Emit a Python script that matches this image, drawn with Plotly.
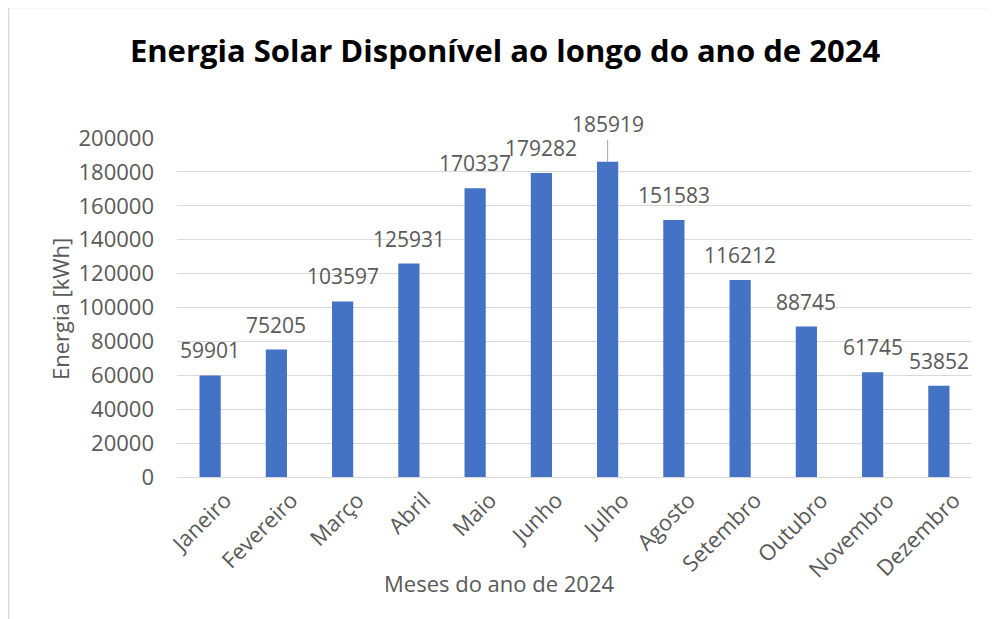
import plotly.graph_objects as go

# dados
meses = ["Janeiro", "Fevereiro", "Março", "Abril", "Maio", "Junho",
         "Julho", "Agosto", "Setembro", "Outubro", "Novembro", "Dezembro"]
energia_kwh = [59901, 75205, 103597, 125931, 170337, 179282,
               185919, 151583, 116212, 88745, 61745, 53852]
y_ticks = list(range(0, 200001, 20000))

# a página tem margem de 8px no body; a figura fica deslocada
OFF = 8
W, H = 997 - OFF, 619 - OFF
ML, MR, MT, MB = 177 - OFF, 25, 138 - OFF, 142
pw, ph = W - ML - MR, H - MT - MB

def px_x(p):
    # p em pixels da janela
    return (p - OFF - ML) / pw

def px_y(p):
    return (H - MB - (p - OFF)) / ph

cinza = "#595959"
fonte = "Open Sans"

fig = go.Figure()
fig.add_trace(go.Bar(x=meses, y=energia_kwh, marker_color="#4472C4",
                     marker_line_width=0, hoverinfo="x+y"))

# rótulos de dados
anots = []
for m, v in zip(meses, energia_kwh):
    if m == "Julho":
        # rótulo deslocado com linha de chamada
        anots.append(dict(x=m, y=v, text=str(v), showarrow=True, arrowhead=0,
                          arrowwidth=1, arrowcolor="#A6A6A6", ax=0, ay=-22,
                          yanchor="bottom", font=dict(size=21, color=cinza, family=fonte)))
    else:
        anots.append(dict(x=m, y=v, text=str(v), showarrow=False, yanchor="bottom",
                          yshift=9, font=dict(size=21, color=cinza, family=fonte)))

# títulos dos eixos
anots.append(dict(xref="paper", yref="paper", x=px_x(499), y=px_y(583),
                  xanchor="center", yanchor="middle",
                  text="Meses do ano de 2024", showarrow=False,
                  font=dict(size=22, color=cinza, family=fonte)))
anots.append(dict(xref="paper", yref="paper", x=px_x(60), y=px_y(309),
                  xanchor="center", yanchor="middle", textangle=-90,
                  text="Energia [kWh]", showarrow=False,
                  font=dict(size=22, color=cinza, family=fonte)))

fig.update_layout(
    width=W, height=H,
    margin=dict(l=ML, r=MR, t=MT, b=MB),
    paper_bgcolor="white", plot_bgcolor="white",
    title=dict(text="<b>Energia Solar Disponível ao longo do ano de 2024</b>",
               x=(505 - OFF) / W, xanchor="center", xref="container",
               y=1 - (51 - OFF) / H, yanchor="middle", yref="container",
               font=dict(size=31, color="black", family=fonte)),
    bargap=0.68,
    showlegend=False,
    annotations=anots,
    shapes=[dict(type="rect", xref="paper", yref="paper",
                 x0=px_x(8.5), x1=px_x(1030), y0=px_y(660), y1=px_y(7.5),
                 line=dict(color="#D9D9D9", width=1.5), layer="below")],
)
fig.update_xaxes(tickangle=-45, showgrid=False, showline=False, zeroline=False,
                 ticks="", ticklabelstandoff=5, ticklabelshift=15,
                 tickfont=dict(size=22, color=cinza, family=fonte))
fig.update_yaxes(range=[0, 200000], tickvals=y_ticks, tickformat="d",
                 showgrid=True, gridcolor="#D9D9D9", gridwidth=1,
                 zeroline=True, zerolinecolor="#D9D9D9", zerolinewidth=1,
                 showline=False, ticks="", ticklabelstandoff=22,
                 tickfont=dict(size=22, color=cinza, family=fonte))

fig.write_html("out.html")
